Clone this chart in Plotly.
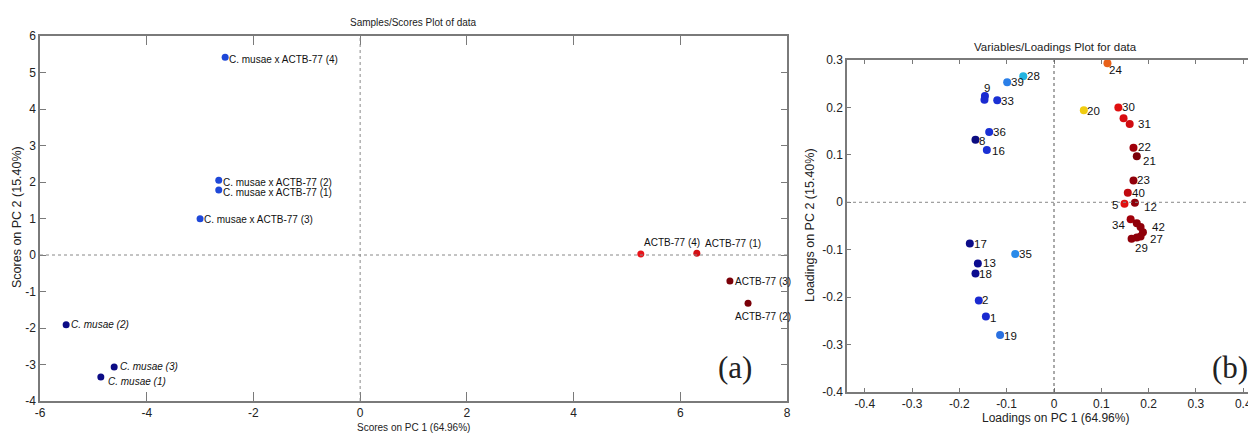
import plotly.graph_objects as go

# page body has an 8px margin: figure is placed at (8, 8) inside a 1256x434 window
OFF = 8
W, H = 1256 - OFF, 434 - OFF

# ---------------- Scores (left) ----------------
score_labels = ["C. musae x ACTB-77 (4)", "C. musae x ACTB-77 (2)", "C. musae x ACTB-77 (1)",
                "C. musae x ACTB-77 (3)", "<i>C. musae (2)</i>", "<i>C. musae (3)</i>",
                "<i>C. musae (1)</i>", "ACTB-77 (4)", "ACTB-77 (1)", "ACTB-77 (3)", "ACTB-77 (2)"]
score_pc1 = [-2.53, -2.65, -2.65, -3.00, -5.51, -4.61, -4.86, 5.26, 6.31, 6.93, 7.27]
score_pc2 = [5.42, 2.05, 1.78, 0.99, -1.91, -3.07, -3.34, 0.03, 0.05, -0.71, -1.32]
score_colors = ["#1f48d8", "#1f48d8", "#1f48d8", "#1f48d8", "#0c0c86", "#0c0c86", "#0c0c86",
                "#e8141a", "#d40f14", "#7a0008", "#7a0008"]
score_xticks = [-6, -4, -2, 0, 2, 4, 6, 8]
score_yticks = [-4, -3, -2, -1, 0, 1, 2, 3, 4, 5, 6]
# label offsets (pixels): x shift, y shift (up)
score_dx = [3, 3, 3, 3, 4, 5, 6, 2, 7, 4, -14]
score_dy = [-2, -2, -2, -1, 0, 1, -5, 11, 10, -1, -13]

# ---------------- Loadings (right) ----------------
load_labels = ["39", "28", "9", "", "33", "36", "8", "16",
               "17", "35", "13", "18", "2", "1", "19",
               "24", "20", "30", "", "31", "22", "21", "23", "40", "5", "12",
               "34", "", "42", "27", "", "", "29"]
load_pc1 = [-0.099, -0.065, -0.146, -0.147, -0.120, -0.137, -0.166, -0.142,
            -0.178, -0.082, -0.161, -0.166, -0.159, -0.144, -0.114,
            0.113, 0.063, 0.136, 0.147, 0.160, 0.168, 0.175, 0.168, 0.156, 0.149, 0.171,
            0.162, 0.175, 0.183, 0.188, 0.183, 0.175, 0.164]
load_pc2 = [0.253, 0.266, 0.224, 0.216, 0.215, 0.148, 0.132, 0.110,
            -0.087, -0.109, -0.129, -0.150, -0.207, -0.241, -0.280,
            0.293, 0.194, 0.200, 0.177, 0.165, 0.115, 0.097, 0.046, 0.020, -0.003, -0.001,
            -0.036, -0.044, -0.052, -0.063, -0.072, -0.074, -0.077]
load_colors = ["#2a7fe8", "#22b4e0", "#1a2ad0", "#1a2ad0", "#1a30d4", "#1a30d4", "#0c0c80", "#1a30d4",
               "#0c0c88", "#2a8ae8", "#0c0c90", "#0c0c90", "#1a2ad0", "#1a2ad0", "#2a70e0",
               "#e86018", "#f0cc10", "#e01010", "#d80c10", "#d00c10", "#a0000a", "#7c0008",
               "#90000a", "#c00a10", "#e01010", "#90000a",
               "#a0000a", "#90000a", "#90000a", "#90000a", "#90000a", "#90000a", "#90000a"]
load_xticks = [-0.4, -0.3, -0.2, -0.1, 0, 0.1, 0.2, 0.3, 0.4]
load_yticks = [-0.4, -0.3, -0.2, -0.1, 0, 0.1, 0.2, 0.3]
load_dx = [3, 3, 2, 0, 3, 3, 3, 4,
           3, 3, 4, 3, 2, 3, 3,
           1, 2, 3, 0, 7, 4, 5, 3, 3, -5, 8,
           -5, 0, 10, 6, 0, 0, 10]
load_dy = [0, 0, 8, 0, -1, 0, -1, -1,
           0, 0, 0, -1, 0, -1, -1,
           -7, -1, 0, 0, 0, 1, -5, 0, 0, -1, -4,
           -6, 0, 0, -7, 0, 0, -9]
load_anchor = ["left"] * 33
load_anchor[2] = "center"
load_anchor[24] = "right"
load_anchor[26] = "right"
load_anchor[32] = "center"


def fmt(v):
    return f"{v:g}"


SANS = "Liberation Sans, Arial, sans-serif"
SERIF = "Liberation Serif, Times New Roman, serif"


def px(x):
    return (x - OFF) / W


def py(y):
    return 1 - (y - OFF) / H


fig = go.Figure()
fig.add_trace(go.Scatter(
    x=score_pc1, y=score_pc2, mode="markers", cliponaxis=False,
    marker=dict(size=7, color=score_colors),
    xaxis="x", yaxis="y", showlegend=False, hoverinfo="skip"))
fig.add_trace(go.Scatter(
    x=load_pc1, y=load_pc2, mode="markers", cliponaxis=False,
    marker=dict(size=8, color=load_colors),
    xaxis="x2", yaxis="y2", showlegend=False, hoverinfo="skip"))

ax_common = dict(showline=True, linecolor="#7a7a7a", linewidth=1.5,
                 ticks="inside", tickcolor="#7a7a7a", showgrid=False,
                 zeroline=False, automargin=False, mirror="ticks")

annotations = []
for x, y, t, dx, dy in zip(score_pc1, score_pc2, score_labels, score_dx, score_dy):
    annotations.append(dict(x=x, y=y, xref="x", yref="y", text=t, showarrow=False,
                            xanchor="left", yanchor="middle", xshift=dx, yshift=dy,
                            borderpad=0, font=dict(family=SANS, size=10, color="#111")))
for x, y, t, dx, dy, a in zip(load_pc1, load_pc2, load_labels, load_dx, load_dy, load_anchor):
    if not t:
        continue
    annotations.append(dict(x=x, y=y, xref="x2", yref="y2", text=t, showarrow=False,
                            xanchor=a, yanchor="middle", xshift=dx, yshift=dy,
                            borderpad=0, font=dict(family=SANS, size=11.5, color="#111")))


def paper_text(text, x, y, size, family=SANS, angle=0):
    return dict(text=text, x=px(x), y=py(y), xref="paper", yref="paper",
                showarrow=False, textangle=angle, xanchor="center", yanchor="middle",
                font=dict(family=family, size=size, color="#222"))


annotations += [
    paper_text("Samples/Scores Plot of data", 413, 23, 10),
    paper_text("Variables/Loadings Plot for data", 1055, 47, 11.5),
    paper_text("Scores on PC 1 (64.96%)", 413, 427, 10),
    paper_text("Scores on PC 2 (15.40%)", 17, 217, 12.5, angle=-90),
    paper_text("Loadings on PC 1 (64.96%)", 1055, 418, 12),
    paper_text("Loadings on PC 2 (15.40%)", 810, 225, 12.5, angle=-90),
    paper_text("(a)", 735, 367, 31, family=SERIF),
    paper_text("(b)", 1230, 367, 31, family=SERIF),
]

fig.update_layout(
    width=W, height=H, margin=dict(l=0, r=0, t=0, b=0),
    paper_bgcolor="white", plot_bgcolor="white",
    xaxis=dict(domain=[px(40), px(787)], range=[-6, 8], tickvals=score_xticks,
               ticktext=[fmt(v) for v in score_xticks],
               tickfont=dict(family=SANS, size=12, color="#222"), ticklen=9,
               anchor="y", **ax_common),
    yaxis=dict(domain=[py(401), py(36)], range=[-4, 6], tickvals=score_yticks,
               ticktext=[fmt(v) for v in score_yticks],
               tickfont=dict(family=SANS, size=12, color="#222"), ticklen=6,
               anchor="x", **ax_common),
    xaxis2=dict(domain=[px(847), 1.0], range=[-0.4376, 0.427],
                tickvals=load_xticks, ticktext=[fmt(v) for v in load_xticks],
                tickfont=dict(family=SANS, size=12, color="#222"), ticklen=4,
                anchor="y2", **ax_common),
    yaxis2=dict(domain=[py(392), py(60)], range=[-0.4, 0.3],
                tickvals=load_yticks, ticktext=[fmt(v) for v in load_yticks],
                tickfont=dict(family=SANS, size=12, color="#222"), ticklen=4,
                anchor="x2", **ax_common),
    shapes=[
        dict(type="line", xref="x", yref="y domain", x0=0, x1=0, y0=0, y1=1,
             line=dict(color="#888", width=1, dash="dot")),
        dict(type="line", xref="x domain", yref="y", x0=0, x1=1, y0=0, y1=0,
             line=dict(color="#888", width=1, dash="dot")),
        dict(type="line", xref="x2", yref="y2 domain", x0=0, x1=0, y0=0, y1=1,
             line=dict(color="#555", width=1, dash="3px,3px")),
        dict(type="line", xref="x2 domain", yref="y2", x0=0, x1=1, y0=0, y1=0,
             line=dict(color="#888", width=1, dash="dot")),
    ],
    annotations=annotations,
)

fig.write_html("out.html")
